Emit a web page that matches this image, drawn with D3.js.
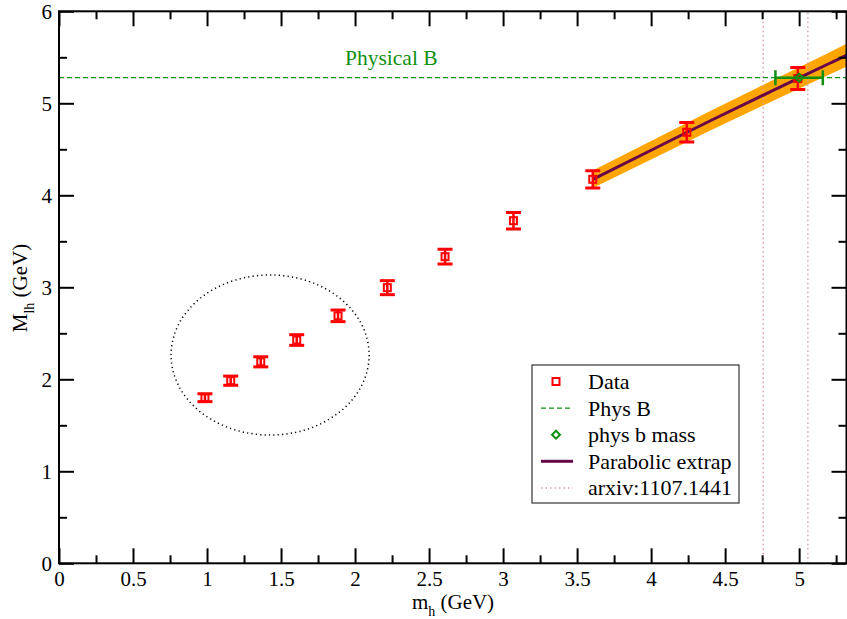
<!DOCTYPE html>
<html>
<head>
<meta charset="utf-8">
<script src="https://cdn.jsdelivr.net/npm/d3@7"></script>
<style>
	body { margin: 0; background: #fff; }
	svg { display: block; }
	svg text { font-family: "Liberation Serif", "Times New Roman", Tinos, "Nimbus Roman", "DejaVu Serif", serif; }
	.axis text { font-size: 21px; fill: #000; }
	.axis line { stroke: #000; stroke-width: 2; }
	.axis path { display: none; }
</style>
</head>
<body>
<svg id="chart" width="847" height="619"></svg>
<script>
// lattice data points
var mh = [0.986, 1.160, 1.363, 1.606, 1.885, 2.218, 2.608, 3.070, 3.606, 4.241, 4.991];
var Mlh = [1.800, 1.985, 2.190, 2.427, 2.690, 2.996, 3.333, 3.724, 4.174, 4.685, 5.270];
var MlhErr = [0.043, 0.050, 0.055, 0.058, 0.063, 0.076, 0.080, 0.089, 0.094, 0.107, 0.120];

// physical B meson and b quark mass
var physB = 5.279;
var physbX = [5.0];
var physbY = [5.279];
var physbXErr = [0.16];

// arxiv:1107.1441 band edges
var arxivX = [4.757, 5.059];

// parabolic extrapolation
var fitX = [3.606, 4.0, 4.4, 4.8, 5.2, 5.33];
var fitY = [4.174, 4.490, 4.810, 5.122, 5.430, 5.530];
var fitErr = [0.095, 0.100, 0.105, 0.112, 0.120, 0.126];

// dotted ellipse round the light points (centre, radii in data units)
var ellipseC = [1.426, 2.264];
var ellipseR = [0.669, 0.870];

var xTicks = [0, 0.5, 1, 1.5, 2, 2.5, 3, 3.5, 4, 4.5, 5];
var xMinor = [0.25, 0.75, 1.25, 1.75, 2.25, 2.75, 3.25, 3.75, 4.25, 4.75, 5.25];
var yTicks = [0, 1, 2, 3, 4, 5, 6];
var yMinor = [0.5, 1.5, 2.5, 3.5, 4.5, 5.5];

var legendItems = ["Data", "Phys B", "phys b mass", "Parabolic extrap", "arxiv:1107.1441"];

var red = "#ff0000", green = "#109010", maroon = "#670748", orange = "#ffa500", pink = "#d4a0a8";
var serif = '"Liberation Serif", "Times New Roman", Tinos, "Nimbus Roman", "DejaVu Serif", serif';

var svg = d3.select("#chart");
var x = d3.scaleLinear().domain([0, 5.32]).range([59, 846.5]);
var y = d3.scaleLinear().domain([0, 6]).range([563.3, 11.3]);

// clip to plot frame
svg.append("clipPath").attr("id", "clip")
	.append("rect")
		.attr("x", x(0)).attr("y", y(6))
		.attr("width", x(5.32) - x(0)).attr("height", y(0) - y(6));

var plot = svg.append("g").attr("clip-path", "url(#clip)");

// orange error band
var band = d3.area()
	.x(function(d, i) { return x(fitX[i]); })
	.y0(function(d, i) { return y(fitY[i] - fitErr[i]); })
	.y1(function(d, i) { return y(fitY[i] + fitErr[i]); });
plot.append("path")
	.datum(fitX)
	.attr("d", band)
	.attr("fill", orange);

// arxiv vertical dotted lines
plot.selectAll(".arxiv")
	.data(arxivX)
	.enter()
	.append("line")
		.attr("class", "arxiv")
		.attr("x1", function(d) { return x(d); })
		.attr("x2", function(d) { return x(d); })
		.attr("y1", y(0)).attr("y2", y(6))
		.attr("stroke", pink)
		.attr("stroke-width", 1.5)
		.attr("stroke-dasharray", "1.5,3");

// Phys B dashed line
plot.append("line")
	.attr("x1", x(0)).attr("x2", x(5.32))
	.attr("y1", y(physB)).attr("y2", y(physB))
	.attr("stroke", green)
	.attr("stroke-width", 1.3)
	.attr("stroke-dasharray", "5,3");

// parabolic extrapolation
var line = d3.line()
	.x(function(d, i) { return x(fitX[i]); })
	.y(function(d, i) { return y(fitY[i]); })
	.curve(d3.curveMonotoneX);
plot.append("path")
	.datum(fitX)
	.attr("d", line)
	.attr("fill", "none")
	.attr("stroke", maroon)
	.attr("stroke-width", 3);

// ellipse
plot.append("ellipse")
	.attr("cx", x(ellipseC[0])).attr("cy", y(ellipseC[1]))
	.attr("rx", x(ellipseR[0]) - x(0)).attr("ry", y(0) - y(ellipseR[1]))
	.attr("fill", "none")
	.attr("stroke", "#000")
	.attr("stroke-width", 1.5)
	.attr("stroke-dasharray", "1.2,3.2");

// data points with error bars
var pts = plot.selectAll(".pt")
	.data(mh)
	.enter()
	.append("g")
	.attr("class", "pt")
	.attr("transform", function(d, i) { return "translate(" + x(d) + "," + y(Mlh[i]) + ")"; });
pts.append("line")
	.attr("y1", function(d, i) { return y(Mlh[i] - MlhErr[i]) - y(Mlh[i]); })
	.attr("y2", function(d, i) { return y(Mlh[i] + MlhErr[i]) - y(Mlh[i]); })
	.attr("stroke", red).attr("stroke-width", 2.5);
pts.append("line")
	.attr("x1", -7.5).attr("x2", 7.5)
	.attr("y1", function(d, i) { return y(Mlh[i] - MlhErr[i]) - y(Mlh[i]); })
	.attr("y2", function(d, i) { return y(Mlh[i] - MlhErr[i]) - y(Mlh[i]); })
	.attr("stroke", red).attr("stroke-width", 3);
pts.append("line")
	.attr("x1", -7.5).attr("x2", 7.5)
	.attr("y1", function(d, i) { return y(Mlh[i] + MlhErr[i]) - y(Mlh[i]); })
	.attr("y2", function(d, i) { return y(Mlh[i] + MlhErr[i]) - y(Mlh[i]); })
	.attr("stroke", red).attr("stroke-width", 3);
pts.append("rect")
	.attr("x", -3.5).attr("y", -3.5)
	.attr("width", 7).attr("height", 7)
	.attr("fill", "none")
	.attr("stroke", red).attr("stroke-width", 2);

// phys b mass point with horizontal error
var pb = plot.selectAll(".pb")
	.data(physbX)
	.enter()
	.append("g")
	.attr("class", "pb")
	.attr("transform", function(d, i) { return "translate(" + x(d) + "," + y(physbY[i]) + ")"; });
pb.append("line")
	.attr("x1", function(d, i) { return x(d - physbXErr[i]) - x(d); })
	.attr("x2", function(d, i) { return x(d + physbXErr[i]) - x(d); })
	.attr("stroke", green).attr("stroke-width", 2.5);
pb.append("line")
	.attr("x1", function(d, i) { return x(d - physbXErr[i]) - x(d); })
	.attr("x2", function(d, i) { return x(d - physbXErr[i]) - x(d); })
	.attr("y1", -7.5).attr("y2", 7.5)
	.attr("stroke", green).attr("stroke-width", 2.5);
pb.append("line")
	.attr("x1", function(d, i) { return x(d + physbXErr[i]) - x(d); })
	.attr("x2", function(d, i) { return x(d + physbXErr[i]) - x(d); })
	.attr("y1", -7.5).attr("y2", 7.5)
	.attr("stroke", green).attr("stroke-width", 2.5);
pb.append("path")
	.attr("d", "M0,-4L4,0L0,4L-4,0Z")
	.attr("fill", "none")
	.attr("stroke", green).attr("stroke-width", 2);

// Physical B label
svg.append("text")
	.attr("x", 345).attr("y", 65)
	.attr("fill", green)
	.attr("font-family", serif)
	.style("font-size", "21.5px")
	.text("Physical B");

// axes, ticks inward on every side
var fmt = d3.format("");
function styleAxis(g) {
	g.attr("font-family", serif).attr("font-size", 21);
}
svg.append("g").attr("class", "axis")
	.attr("transform", "translate(0," + y(0) + ")")
	.call(d3.axisBottom(x).tickValues(xTicks).tickFormat(fmt).tickSize(-15).tickPadding(8))
	.call(styleAxis);
svg.append("g").attr("class", "axis")
	.attr("transform", "translate(0," + y(0) + ")")
	.call(d3.axisBottom(x).tickValues(xMinor).tickFormat("").tickSize(-8));
svg.append("g").attr("class", "axis")
	.attr("transform", "translate(0," + y(6) + ")")
	.call(d3.axisTop(x).tickValues(xTicks).tickFormat("").tickSize(-15));
svg.append("g").attr("class", "axis")
	.attr("transform", "translate(0," + y(6) + ")")
	.call(d3.axisTop(x).tickValues(xMinor).tickFormat("").tickSize(-8));
svg.append("g").attr("class", "axis")
	.attr("transform", "translate(" + x(0) + ",0)")
	.call(d3.axisLeft(y).tickValues(yTicks).tickFormat(fmt).tickSize(-15).tickPadding(7))
	.call(styleAxis);
svg.append("g").attr("class", "axis")
	.attr("transform", "translate(" + x(0) + ",0)")
	.call(d3.axisLeft(y).tickValues(yMinor).tickFormat("").tickSize(-8));
svg.append("g").attr("class", "axis")
	.attr("transform", "translate(" + x(5.32) + ",0)")
	.call(d3.axisRight(y).tickValues(yTicks).tickFormat("").tickSize(-15));
svg.append("g").attr("class", "axis")
	.attr("transform", "translate(" + x(5.32) + ",0)")
	.call(d3.axisRight(y).tickValues(yMinor).tickFormat("").tickSize(-8));

// frame
svg.append("rect")
	.attr("x", x(0)).attr("y", y(6))
	.attr("width", x(5.32) - x(0)).attr("height", y(0) - y(6))
	.attr("fill", "none")
	.attr("stroke", "#000")
	.attr("stroke-width", 2);

// axis titles
var xt = svg.append("text")
	.attr("x", 453).attr("y", 609)
	.attr("text-anchor", "middle")
	.attr("font-family", serif)
	.style("font-size", "21px");
xt.append("tspan").text("m");
xt.append("tspan").attr("dy", 7).style("font-size", "14px").text("h");
xt.append("tspan").attr("dy", -7).text(" (GeV)");

var yt = svg.append("text")
	.attr("transform", "translate(27,288) rotate(-90)")
	.attr("text-anchor", "middle")
	.attr("font-family", serif)
	.style("font-size", "21px");
yt.append("tspan").text("M");
yt.append("tspan").attr("dy", 7).style("font-size", "14px").text("lh");
yt.append("tspan").attr("dy", -7).text(" (GeV)");

// legend
var lg = svg.append("g").attr("transform", "translate(532,365)");
lg.append("rect")
	.attr("width", 207).attr("height", 138)
	.attr("fill", "#fff")
	.attr("stroke", "#333")
	.attr("stroke-width", 1.2);
var rows = lg.selectAll(".row")
	.data(legendItems)
	.enter()
	.append("g")
	.attr("class", "row")
	.attr("transform", function(d, i) { return "translate(0," + (16.5 + i * 26.6) + ")"; });
rows.append("text")
	.attr("x", 56).attr("y", 7.5)
	.attr("font-family", serif)
	.style("font-size", "22px")
	.text(function(d) { return d; });
rows.filter(function(d, i) { return i === 0; })
	.append("rect")
		.attr("x", 20.5).attr("y", -3.5).attr("width", 7).attr("height", 7)
		.attr("fill", "none").attr("stroke", red).attr("stroke-width", 2);
rows.filter(function(d, i) { return i === 1; })
	.append("line")
		.attr("x1", 9).attr("x2", 41)
		.attr("stroke", green).attr("stroke-width", 1.3).attr("stroke-dasharray", "5,3");
rows.filter(function(d, i) { return i === 2; })
	.append("path")
		.attr("d", "M24,-4L28,0L24,4L20,0Z")
		.attr("fill", "none").attr("stroke", green).attr("stroke-width", 2);
rows.filter(function(d, i) { return i === 3; })
	.append("line")
		.attr("x1", 9).attr("x2", 41)
		.attr("stroke", maroon).attr("stroke-width", 3);
rows.filter(function(d, i) { return i === 4; })
	.append("line")
		.attr("x1", 9).attr("x2", 41)
		.attr("stroke", pink).attr("stroke-width", 1.5).attr("stroke-dasharray", "1.5,3");
</script>
</body>
</html>
